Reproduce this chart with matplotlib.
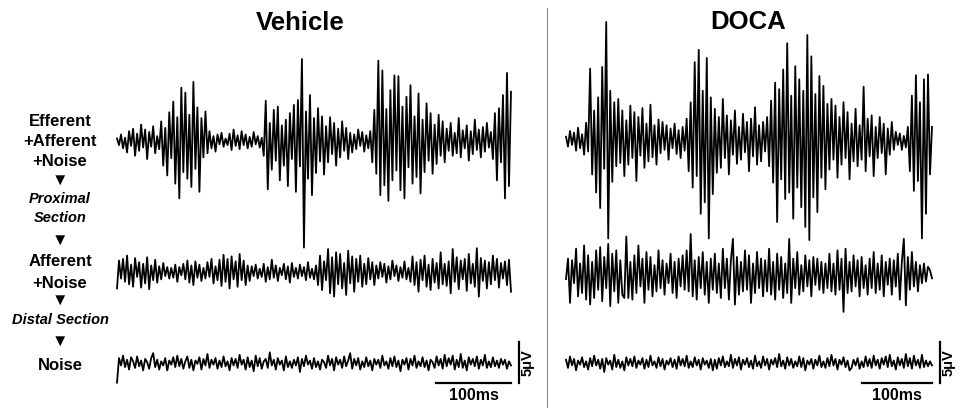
import matplotlib
matplotlib.use('Agg')
import matplotlib.pyplot as plt
from matplotlib.lines import Line2D
import numpy as np

vehicle_efferent = [
    0.3,-0.5,0.8,-0.9,0.4,-1.4,1.2,-0.6,1.5,-1.8,
    0.9,-1.2,2.0,-0.8,1.4,-2.2,1.1,-0.7,1.8,-1.5,
    0.6,-1.0,
    2.4,-3.0,1.6,-4.2,3.5,-2.1,4.8,-5.2,2.9,-7.0,
    6.5,-3.8,5.9,-4.6,3.2,-5.6,7.2,-3.4,4.1,-6.2,
    2.8,-2.0,3.6,-1.5,
    1.2,-0.9,0.6,-1.3,0.8,-0.4,1.0,-0.7,0.3,-0.5,
    0.9,-1.1,1.4,-0.6,0.7,-1.0,1.2,-0.5,0.8,-0.9,
    0.5,-0.7,1.1,-0.4,0.6,-0.8,0.4,
    -1.8,4.9,-5.9,2.2,-3.5,3.8,-2.4,4.2,-4.8,1.9,
    -3.0,2.6,-5.5,3.4,-2.2,4.4,-6.2,5.0,-3.1,10.0,
    -13.0,3.6,-4.6,5.6,-6.6,2.8,-3.9,4.0,-2.5,3.0,
    -4.1,1.8,-2.6,2.9,-1.6,2.2,-3.0,1.5,-2.0,2.4,
    -1.2,1.6,-2.2,1.0,-1.4,
    0.8,-1.0,1.4,-0.6,1.1,-1.3,0.7,-0.9,1.2,
    -2.6,3.8,-4.0,9.8,-6.6,8.6,-5.4,3.9,-7.3,6.2,
    -4.8,8.0,-3.6,7.9,-6.0,4.2,-7.0,5.4,-3.2,6.8,
    -5.2,3.0,-4.4,5.8,-6.4,2.6,-3.8,4.6,-2.4,3.4,
    -4.0,2.0,-2.8,3.2,-1.8,2.4,
    -2.6,1.5,-1.2,2.2,-1.8,1.0,-1.5,2.8,-2.0,1.3,
    -0.9,1.9,-2.4,1.2,-1.6,2.6,-1.1,1.4,-2.0,1.7,
    -1.3,2.2,-0.8,1.1,
    -2.2,3.4,-4.8,4.0,-2.6,5.6,-7.0,8.3,-5.5,6.0]

doca_efferent = [
    0.4,-0.8,1.1,-0.6,0.9,-1.3,1.5,-1.0,0.7,-1.8,2.1,-1.4,
    8.7,-4.2,3.6,-6.4,5.2,-8.3,8.9,-3.5,14.4,-12.0,6.0,
    -5.1,4.6,-3.2,5.0,-2.8,3.6,-4.4,2.4,-3.0,4.2,-2.2,3.4,
    -5.0,2.8,-1.9,3.9,-3.4,2.0,-2.6,4.3,-2.1,1.8,-3.0,2.5,
    -1.6,2.2,-1.2,1.8,-2.4,1.4,-1.0,2.0,-1.7,1.2,-2.2,1.6,-1.3,2.6,
    -3.8,4.6,-5.8,9.5,-4.4,11.0,-9.0,6.0,-7.6,10.0,-12.0,5.2,-6.6,3.8,-4.0,
    2.8,-3.4,5.0,-2.2,3.0,-4.2,2.4,-1.8,3.6,-2.9,1.6,-2.4,3.2,-1.5,2.2,
    -3.8,2.6,-2.0,4.0,-3.0,1.8,-2.6,2.2,-1.4,2.8,
    -3.2,4.8,-5.2,7.0,-10.0,6.2,-4.8,8.6,-7.2,11.8,-6.4,5.4,-9.6,9.0,-5.8,
    7.4,-8.2,6.0,-10.6,12.8,-12.2,10.2,-7.0,5.6,-8.8,7.8,-4.6,6.6,-6.0,4.4,
    -3.6,5.0,-2.4,4.2,-4.6,2.8,-3.0,4.6,-2.2,3.4,-4.8,2.0,-2.6,3.8,-3.2,1.8,
    -2.4,6.5,-3.8,2.6,-2.0,3.0,-4.4,1.6,-2.2,2.8,-1.6,2.0,-4.2,1.4,-1.8,2.2,-1.2,
    1.0,-0.6,0.8,-1.2,0.5,-0.9,1.6,
    -3.8,5.4,-6.2,7.9,-5.0,4.6,-12.0,7.4,-9.0,8.0,-4.2,1.6]

vehicle_afferent = [
    -2.0,1.4,-0.8,1.6,-1.2,2.0,-1.5,0.9,-1.8,1.7,-0.6,1.2,-1.9,1.0,-1.4,1.8,
    -2.1,0.8,-1.0,1.5,-1.3,0.7,-0.9,1.1,-0.5,0.6,-0.8,
    0.5,-0.7,0.9,-1.2,0.6,-0.4,1.0,-0.9,1.4,-1.3,0.8,-1.6,1.3,-0.7,0.9,-1.1,
    0.5,-0.8,1.2,-0.6,1.6,-1.4,0.7,-1.0,1.5,
    -1.7,2.1,-1.2,1.6,-2.0,1.9,-0.9,1.3,-1.8,2.2,-1.0,1.4,-1.6,0.8,-1.1,
    0.7,-0.5,0.9,-0.8,0.4,-0.6,1.0,-1.2,0.6,-0.9,1.5,-0.7,0.8,-1.1,0.5,-0.4,
    1.0,-0.9,0.7,-1.3,1.1,-0.6,0.5,-0.8,0.9,-0.5,0.6,-1.0,1.2,-0.7,0.4,-0.9,0.8,
    -1.6,2.0,-2.2,1.3,-1.0,2.8,-2.6,1.8,-3.0,2.4,-1.5,2.2,-2.0,1.1,-2.8,
    2.6,-1.4,1.9,-2.4,1.6,-1.2,2.0,-1.8,1.0,-1.5,1.7,-0.9,1.2,-1.6,0.8,
    -0.8,1.2,-0.6,1.0,-1.3,0.7,-0.9,1.4,-0.5,0.8,-1.1,0.6,-0.7,1.3,-0.9,0.5,-1.2,
    1.9,-1.6,1.2,-2.4,1.5,-1.0,2.0,-1.8,0.9,-2.2,1.6,-1.3,1.1,-2.0,2.4,-1.5,
    1.0,-1.7,1.3,-2.6,2.8,-1.2,1.8,-2.1,1.4,-0.9,1.6,-2.3,2.2,-1.4,1.0,-1.8,
    2.9,-3.0,1.7,-1.1,1.4,-2.0,1.2,-1.5,2.0,-1.0,1.6,-1.9,1.1,-0.8,1.3,-1.6,1.5,-2.4]

doca_afferent = [
    -0.5,2.0,-3.4,1.8,-1.0,3.2,-2.6,1.4,-2.2,3.6,
    -3.0,2.4,-3.6,1.6,-2.8,3.0,-1.8,3.4,-3.2,2.2,
    -1.6,3.8,-3.8,2.6,-2.0,3.0,-3.4,1.8,-2.4,-2.8,
    4.7,-2.8,1.6,-3.0,2.4,-2.2,3.6,-1.4,2.0,-3.4,
    2.8,-1.8,2.2,-2.6,1.2,-2.0,3.0,-1.6,1.8,-2.4,
    1.4,-1.0,2.6,-2.2,1.6,-2.8,2.0,-1.4,2.4,-1.8,
    3.0,-2.0,5.0,-2.6,1.8,-3.0,2.2,-1.6,2.8,-2.4,
    1.6,-3.4,2.0,-1.8,2.6,-2.2,1.4,-2.8,3.2,-1.6,
    2.0,-3.0,1.8,4.4,-3.6,2.2,-2.4,1.6,-2.0,3.0,
    -1.8,2.4,-3.4,1.4,-2.2,2.8,-1.6,2.0,-2.6,1.8,
    -2.0,3.2,-2.4,1.6,-3.0,2.6,-1.8,2.2,-2.8,1.4,
    -2.2,4.4,-3.4,2.0,-1.6,2.8,-2.4,1.2,-2.0,2.4,
    -1.4,1.8,-2.6,2.2,-1.2,2.0,-1.8,1.6,-2.2,1.4,
    -1.6,2.6,-2.0,1.4,-2.4,3.0,-1.8,2.0,-4.5,3.2,
    -2.2,1.6,-2.0,2.4,-1.4,1.8,-2.6,2.2,-1.6,1.2,
    -2.4,2.0,-1.6,2.8,-2.2,1.4,-1.8,2.4,-2.6,1.6,
    -1.2,2.0,-2.4,1.8,-1.4,2.6,-3.0,1.6,4.4,-3.7,
    2.2,-1.8,2.8,-1.4,1.6,-2.0,1.2,-1.0,1.4,-0.8,
    1.0,0.6,-0.4]

vehicle_noise = [
    -2.4,0.6,-0.3,0.9,-0.5,0.4,-0.8,0.7,0.2,-0.6,
    0.8,-0.4,0.3,-0.9,0.5,0.1,-0.7,0.6,1.2,-0.5,
    0.4,-0.8,0.2,-0.3,0.6,-0.9,0.3,-0.2,0.7,-0.5,
    0.9,-0.4,0.5,-0.7,0.2,0.8,-0.6,0.4,-0.9,0.3,
    -0.1,0.7,-0.8,0.5,-0.3,1.1,-0.6,0.4,-0.2,0.6,
    -0.7,0.3,-0.5,0.8,-0.4,0.2,-0.9,0.6,-0.3,0.5,
    -0.6,1.0,-0.2,0.4,-0.8,0.7,-0.5,0.3,-1.0,0.9,
    -0.4,0.6,-0.7,0.2,0.5,-0.6,1.3,-0.3,0.4,-0.8,
    0.6,-0.2,0.3,-0.9,0.8,-0.5,0.2,-0.6,0.4,-0.3,
    0.7,-1.1,0.5,-0.4,0.9,-0.2,0.3,-0.7,0.6,-0.5,
    0.2,-0.8,0.4,0.1,-0.6,0.9,-0.3,0.5,-0.9,0.7,
    -0.2,0.4,-0.6,0.8,-0.4,0.3,1.2,-0.7,0.5,-0.3,
    0.6,-0.8,0.2,-0.5,0.7,-0.4,0.3,-0.9,0.5,-0.2,
    0.4,-0.6,0.9,-0.3,0.2,-0.7,0.6,-0.4,0.8,-0.5,
    0.3,-1.0,0.4,-0.2,0.6,-0.8,0.5,-0.3,0.9,-0.6,
    0.2,-0.4,0.7,-0.5,0.3,-0.9,0.4,0.1,-0.6,0.8,
    -0.3,0.5,-0.7,1.0,-0.4,0.6,-0.2,0.9,-0.8,0.4,
    -0.5,1.1,-0.6,0.3,-0.9,0.7,-0.2,0.5,-0.4,0.8,
    -0.7,0.4,-0.3,1.0,-0.6,0.2,-0.5,0.7,-0.4,0.3,
    -0.6,0.5,-0.2,0.4,-0.7,0.2,-0.3]

doca_noise = [
    0.4,-0.6,0.8,-0.3,0.5,-0.9,0.3,-0.2,0.7,-0.5,
    0.2,-0.8,0.6,-0.4,0.9,-0.3,0.4,-0.7,0.5,-1.1,
    0.6,-0.2,0.3,-0.8,1.0,-0.5,0.4,-0.6,0.2,-0.9,
    0.7,-0.3,0.5,-0.4,0.8,-0.6,0.3,-0.2,0.6,-0.7,
    0.4,-0.5,0.9,-0.3,0.2,-0.6,0.7,-0.4,0.5,-0.8,
    0.3,-0.2,0.6,-0.5,0.4,-0.7,0.8,-0.3,0.5,-0.4,
    0.9,-0.6,0.2,-0.5,0.7,-0.3,0.4,-0.8,0.6,-0.2,
    0.3,-0.6,0.5,-0.9,0.4,-0.7,0.6,-0.3,0.8,-0.5,
    0.2,-0.4,1.0,-0.6,0.5,-0.3,0.7,-0.8,0.4,-0.2,
    0.6,-0.5,0.3,-0.7,0.9,-0.4,0.2,-0.6,0.8,-0.3,
    0.5,-0.8,0.4,-0.2,0.6,-0.5,1.1,-0.4,0.3,-0.7,
    0.7,-0.3,0.5,-0.6,0.2,-0.4,0.8,-0.5,0.6,-0.9,
    0.3,-0.2,0.5,-0.7,0.4,-0.3,0.9,-0.5,0.2,-0.6,
    0.6,-0.4,1.0,-0.3,0.5,-0.8,0.4,-0.2,0.7,-0.5,
    0.3,-0.9,-0.6,0.4,-0.3,0.6,-0.7,0.2,-0.5,0.8,
    -0.4,0.5,-0.6,0.9,-0.3,0.4,-0.7,0.6,-0.2,0.8,
    -0.5,1.0,-0.4,0.3,-0.8,0.7,-0.3,0.5,-0.6,1.1,
    -0.4,0.6,-0.7,0.9,-0.3,0.4,-0.6,1.0,-0.5,0.3,
    -0.4,0.2,-0.3]

duration_ms = 525
titles = ["Vehicle", "DOCA"]

#figure size in pixels
W, H = 965, 408
PX_PER_UV = 8.2

plt.rcParams['font.family'] = ['Liberation Sans', 'DejaVu Sans']
fig = plt.figure(figsize=(W / 100, H / 100), dpi=100)

#one invisible axes per trace, placed in pixels
def trace_ax(x0, x1, ybase, half=130):
    ax = fig.add_axes([x0 / W, 1 - (ybase + half) / H, (x1 - x0) / W, 2 * half / H])
    ax.set_xlim(0, duration_ms)
    ax.set_ylim(-half / PX_PER_UV, half / PX_PER_UV)
    ax.axis('off')
    ax.patch.set_alpha(0)
    return ax

def plot_trace(ax, values):
    t = np.linspace(0, duration_ms, len(values))
    ax.plot(t, values, color='black', lw=1.3, clip_on=False)

#scale bars: 100 ms and 5 uV
def scale_bars(ax, ms_per_px):
    ybar = -20 / PX_PER_UV
    ax.plot([duration_ms - 100, duration_ms], [ybar, ybar], color='black', lw=1.6, clip_on=False)
    xv = duration_ms + 8 * ms_per_px
    ax.plot([xv, xv], [ybar, ybar + 5], color='black', lw=1.6, clip_on=False)
    ax.text(duration_ms - 50, ybar - 1.5, "100ms", ha='center', va='center',
            fontsize=11.5, fontweight='bold')
    ax.text(xv + 9 * ms_per_px, ybar + 2.5, "5\u03bcV", ha='center', va='center',
            rotation=90, fontsize=10.5, fontweight='bold')

#left column: Vehicle
ax = trace_ax(117, 511, 141)
plot_trace(ax, vehicle_efferent)
ax = trace_ax(117, 511, 272)
plot_trace(ax, vehicle_afferent)
ax = trace_ax(117, 511, 363)
plot_trace(ax, vehicle_noise)
scale_bars(ax, duration_ms / 394)

#right column: DOCA
ax = trace_ax(566, 932, 140)
plot_trace(ax, doca_efferent)
ax = trace_ax(566, 932, 275)
plot_trace(ax, doca_afferent)
ax = trace_ax(566, 932, 363)
plot_trace(ax, doca_noise)
scale_bars(ax, duration_ms / 366)

#column titles
fig.text(300 / W, 1 - 23 / H, titles[0], ha='center', va='center', fontsize=18.5, fontweight='bold')
fig.text(748 / W, 1 - 22 / H, titles[1], ha='center', va='center', fontsize=18.5, fontweight='bold')

#divider between the two columns
fig.add_artist(Line2D([547 / W, 547 / W], [0, 1 - 8 / H], color='#8c8c8c', lw=0.8))

#row labels on the left
labels = [("Efferent", 121, 'normal', 12), ("+Afferent", 142, 'normal', 12),
          ("+Noise", 162, 'normal', 12), ("\u25bc", 180, 'normal', 12),
          ("Proximal", 199, 'italic', 10.5), ("Section", 218, 'italic', 10.5),
          ("\u25bc", 240, 'normal', 12), ("Afferent", 262, 'normal', 12),
          ("+Noise", 283, 'normal', 12), ("\u25bc", 300, 'normal', 12),
          ("Distal Section", 320, 'italic', 10.5), ("\u25bc", 341, 'normal', 12),
          ("Noise", 365, 'normal', 12)]
for text, y, style, size in labels:
    fig.text(60 / W, 1 - y / H, text, ha='center', va='center', fontsize=size,
             fontweight='bold', fontstyle=style)

fig.savefig("out.png", dpi=100)
